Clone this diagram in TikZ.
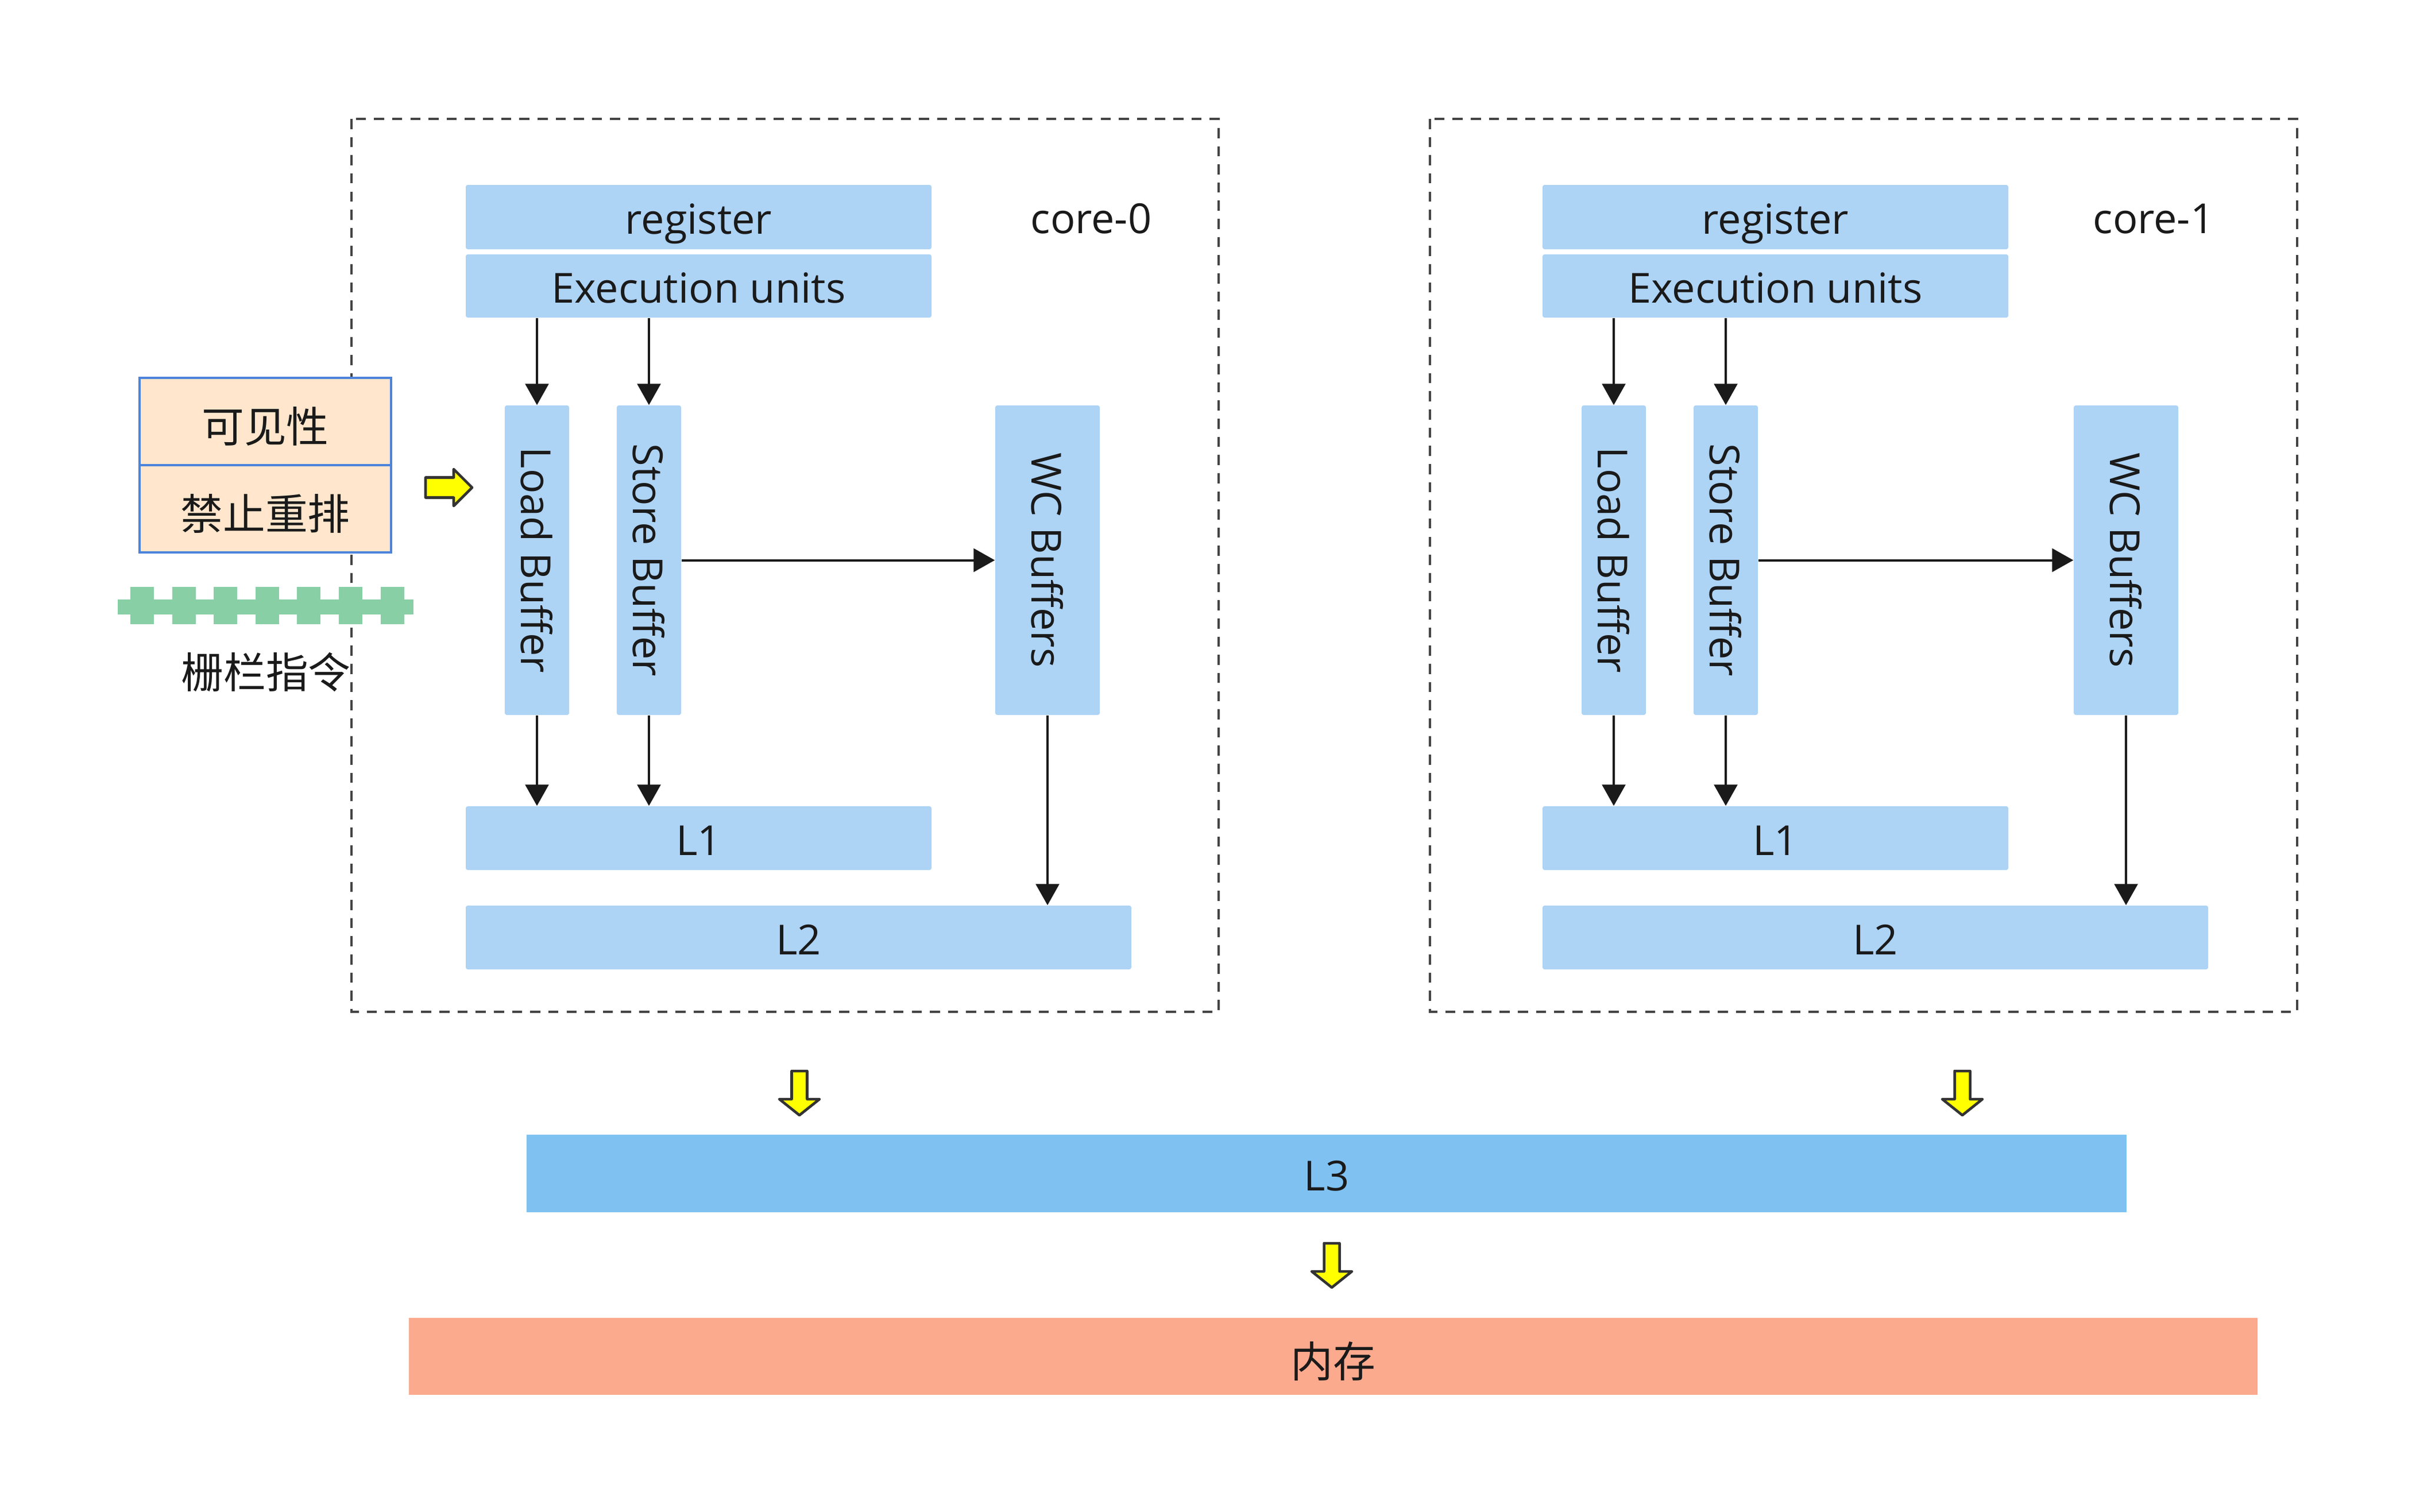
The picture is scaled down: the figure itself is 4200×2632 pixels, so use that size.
\documentclass[tikz,border=0pt]{standalone}
\usepackage{fontspec}
\usepackage{graphicx}
\setmainfont{Open Sans}
\newfontfamily\cjk{Noto Sans CJK SC}
\usetikzlibrary{arrows.meta}
\definecolor{boxblue}{HTML}{ADD3F5}
\definecolor{lthree}{HTML}{7FC2F2}
\definecolor{memc}{HTML}{FCAA8E}
\definecolor{peach}{HTML}{FFE6CC}
\definecolor{peachline}{HTML}{4D84DB}
\definecolor{barrier}{HTML}{88CFA6}
\definecolor{txt}{HTML}{1A1A1A}
\definecolor{dashc}{HTML}{444444}
\definecolor{yarr}{HTML}{FFFF00}
\definecolor{yline}{HTML}{333333}
\tikzset{
  bluebox/.style={fill=boxblue, draw=none, rounded corners=1pt, text=txt, inner sep=0pt,
    font=\fontsize{20.5}{24}\selectfont},
  latintxt/.style={text height=17pt, text depth=0pt},
  cjktxt/.style={text height=20.5pt, text depth=0pt},
  corebox/.style={draw=dashc, line width=1.25pt, dash pattern=on 5pt off 4pt},
  conn/.style={draw=txt, line width=1.15pt, -{Triangle[length=10.5pt,width=11.5pt]}},
  yblock/.style={fill=yarr, draw=yline, line width=1.3pt, line join=round},
  sidebox/.style={fill=peach, draw=peachline, line width=1.4pt, text=txt, inner sep=0pt,
    minimum width=4.38cm, minimum height=1.52cm, font=\cjk\fontsize{21}{24}\selectfont, cjktxt},
  lbl/.style={text=txt, inner sep=0pt, font=\fontsize{20.5}{24}\selectfont},
}
\begin{document}
\begin{tikzpicture}[x=0.1mm,y=-0.1mm]
\useasboundingbox (0,0) rectangle (4200,2632);
\fill[white] (0,0) rectangle (4200,2632);

% core frames
\draw[corebox] (612,207) rectangle (2122,1762);
\draw[corebox] (2490,207) rectangle (4000,1762);

% ---------- core-0 ----------
\node[bluebox, latintxt, minimum width=8.11cm, minimum height=1.12cm] (reg0) at (1216.5,378) {register};
\node[bluebox, latintxt, minimum width=8.11cm, minimum height=1.10cm] (exe0) at (1216.5,498) {Execution units};
\node[lbl] (core0) at (1900,381) {core-0};
\node[bluebox, minimum width=1.12cm, minimum height=5.39cm] (lb0) at (935,975.5) {\rotatebox{-90}{Load Buffer}};
\node[bluebox, minimum width=1.12cm, minimum height=5.39cm] (sb0) at (1130,975.5) {\rotatebox{-90}{Store Buffer}};
\node[bluebox, minimum width=1.82cm, minimum height=5.39cm] (wc0) at (1824,975.5) {\rotatebox{-90}{WC Buffers}};
\node[bluebox, latintxt, minimum width=8.11cm, minimum height=1.11cm] (l10) at (1216.5,1459.5) {L1};
\node[bluebox, latintxt, minimum width=11.59cm, minimum height=1.11cm] (l20) at (1390.5,1632.5) {L2};

\draw[conn] (lb0.north |- exe0.south) -- (lb0.north);
\draw[conn] (sb0.north |- exe0.south) -- (sb0.north);
\draw[conn] (lb0.south) -- (lb0.south |- l10.north);
\draw[conn] (sb0.south) -- (sb0.south |- l10.north);
\draw[conn] (sb0.east) -- (wc0.west);
\draw[conn] (wc0.south) -- (wc0.south |- l20.north);

% ---------- core-1 ----------
\node[bluebox, latintxt, minimum width=8.11cm, minimum height=1.12cm] (reg1) at (3091.5,378) {register};
\node[bluebox, latintxt, minimum width=8.11cm, minimum height=1.10cm] (exe1) at (3091.5,498) {Execution units};
\node[lbl] (core1) at (3750,381) {core-1};
\node[bluebox, minimum width=1.12cm, minimum height=5.39cm] (lb1) at (2810,975.5) {\rotatebox{-90}{Load Buffer}};
\node[bluebox, minimum width=1.12cm, minimum height=5.39cm] (sb1) at (3005,975.5) {\rotatebox{-90}{Store Buffer}};
\node[bluebox, minimum width=1.82cm, minimum height=5.39cm] (wc1) at (3702,975.5) {\rotatebox{-90}{WC Buffers}};
\node[bluebox, latintxt, minimum width=8.11cm, minimum height=1.11cm] (l11) at (3091.5,1459.5) {L1};
\node[bluebox, latintxt, minimum width=11.59cm, minimum height=1.11cm] (l21) at (3265.5,1632.5) {L2};

\draw[conn] (lb1.north |- exe1.south) -- (lb1.north);
\draw[conn] (sb1.north |- exe1.south) -- (sb1.north);
\draw[conn] (lb1.south) -- (lb1.south |- l11.north);
\draw[conn] (sb1.south) -- (sb1.south |- l11.north);
\draw[conn] (sb1.east) -- (wc1.west);
\draw[conn] (wc1.south) -- (wc1.south |- l21.north);

% ---------- shared levels ----------
\node[bluebox, latintxt, fill=lthree, rounded corners=0pt, minimum width=27.86cm, minimum height=1.35cm] (l3) at (2310,2043.5) {L3};
\node[bluebox, cjktxt, fill=memc, rounded corners=0pt, minimum width=32.19cm, minimum height=1.34cm, font=\cjk\fontsize{21}{24}\selectfont] (mem) at (2321.5,2362) {内存};

% ---------- side legend ----------
\node[sidebox] (vis) at (462,734) {可见性};
\node[sidebox] (noreorder) at (462,886) {禁止重排};

% barrier
\fill[barrier] (205,1044) rectangle (720,1070);
\foreach \i in {0,...,6}{
  \fill[barrier] ({227+72.6*\i},1022) rectangle ({268+72.6*\i},1087);
}
\node[text=txt, inner sep=0pt, font=\cjk\fontsize{21}{24}\selectfont] (fence) at (463,1170) {栅栏指令};

% yellow block arrows
\draw[yblock, shift={(741,849)}] (0,-17.5) -- (49,-17.5) -- (49,-32) -- (81,0) -- (49,32) -- (49,17.5) -- (0,17.5) -- cycle;
\foreach \cx/\cy in {1392/1865, 3417/1865, 2319/2165}{
  \draw[yblock, shift={(\cx,\cy)}] (-13.5,0) -- (13.5,0) -- (13.5,49) -- (35,49) -- (0,77) -- (-35,49) -- (-13.5,49) -- cycle;
}
\end{tikzpicture}
\end{document}
